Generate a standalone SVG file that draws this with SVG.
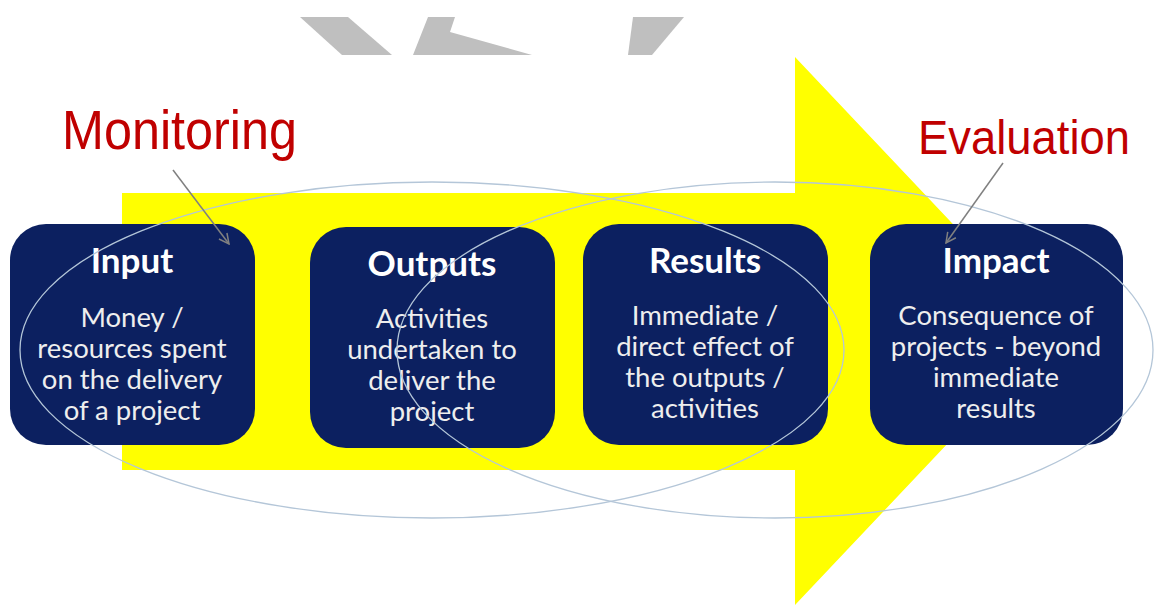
<svg xmlns="http://www.w3.org/2000/svg" width="1157" height="605" viewBox="0 0 1157 605">
<style>
.box{fill:#0c2060}
.title{font-family:Lato,"Open Sans",sans-serif;font-weight:bold;font-size:35px;fill:#ffffff;text-anchor:middle}
.body{font-family:Lato,"Open Sans",sans-serif;font-size:27.5px;fill:#eeeeee;text-anchor:middle}
.lbl{font-family:"Liberation Sans",Arial,sans-serif;fill:#c00000}
.ell{fill:none;stroke:#b4c6d8;stroke-width:1.3}
.conn{stroke:#808080;stroke-width:1.5;fill:none}
.wm{fill:#bfbfbf}
</style>
<defs>
<marker id="open" viewBox="0 0 12 12" refX="11" refY="6" markerWidth="12" markerHeight="12" markerUnits="userSpaceOnUse" orient="auto">
<path d="M1,1 L11,6 L1,11" fill="none" stroke="#808080" stroke-width="1.5"/>
</marker>
</defs>
<rect width="1157" height="605" fill="#ffffff"/>
<g id="watermark">
<polygon class="wm" points="300,17 348,17 392,55 342,55"/>
<polygon class="wm" points="428,17 455,17 450,32 532,55 413,55"/>
<polygon class="wm" points="633,17 684,17 652,55 628,55"/>
</g>
<g id="big-arrow">
<polygon points="122,193 795,193 795,57 1054,331 795,605 795,470 122,470" fill="#ffff00"/>
</g>
<g id="node-input">
<rect class="box" x="10" y="224" width="245" height="221" rx="36"/>
<text class="title" x="132" y="273">Input</text>
<text class="body" x="132" y="327">Money /</text>
<text class="body" x="132" y="358">resources spent</text>
<text class="body" x="132" y="389">on the delivery</text>
<text class="body" x="132" y="420">of a project</text>
</g>
<g id="node-outputs">
<rect class="box" x="310" y="227" width="245" height="221" rx="36"/>
<text class="title" x="432" y="276">Outputs</text>
<text class="body" x="432" y="328">Activities</text>
<text class="body" x="432" y="359">undertaken to</text>
<text class="body" x="432" y="390">deliver the</text>
<text class="body" x="432" y="421">project</text>
</g>
<g id="node-results">
<rect class="box" x="583" y="224" width="245" height="221" rx="36"/>
<text class="title" x="705" y="273">Results</text>
<text class="body" x="705" y="325">Immediate /</text>
<text class="body" x="705" y="356">direct effect of</text>
<text class="body" x="705" y="387">the outputs /</text>
<text class="body" x="705" y="418">activities</text>
</g>
<g id="node-impact">
<rect class="box" x="870" y="224" width="253" height="221" rx="36"/>
<text class="title" x="996" y="273">Impact</text>
<text class="body" x="996" y="325">Consequence of</text>
<text class="body" x="996" y="356">projects - beyond</text>
<text class="body" x="996" y="387">immediate</text>
<text class="body" x="996" y="418">results</text>
</g>
<g id="groupings">
<ellipse class="ell" cx="432" cy="350" rx="412" ry="168"/>
<ellipse class="ell" cx="775" cy="350" rx="378" ry="168"/>
</g>
<g id="node-monitoring">
<text class="lbl" x="62" y="149" font-size="56" textLength="235" lengthAdjust="spacingAndGlyphs">Monitoring</text>
</g>
<g id="node-evaluation">
<text class="lbl" x="918" y="154" font-size="48" textLength="212" lengthAdjust="spacingAndGlyphs">Evaluation</text>
</g>
<g id="connectors">
<line class="conn" x1="173" y1="170" x2="229" y2="244" marker-end="url(#open)"/>
<line class="conn" x1="1003" y1="163" x2="946" y2="243" marker-end="url(#open)"/>
</g>
</svg>
